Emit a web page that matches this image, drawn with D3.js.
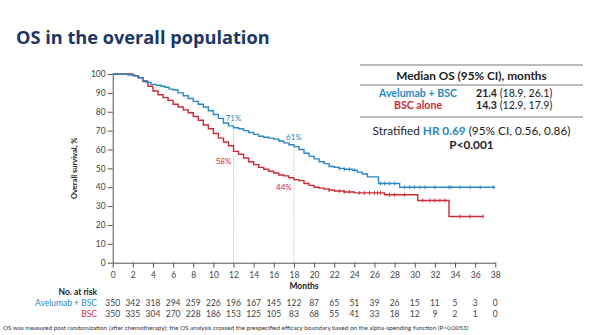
<!DOCTYPE html>
<html>
<head>
<meta charset="utf-8">
<script src="https://cdn.jsdelivr.net/npm/d3@7"></script>
<style>
  body { margin: 0; background: #fff; }
  svg text { font-family: Lato, "Open Sans", sans-serif; }
  .axis path, .axis line { stroke: #555; }
  .axis text { fill: #444; font-size: 8.5px; font-family: Lato, sans-serif; }
</style>
</head>
<body>
<div id="chart"></div>
<script>
// Kaplan-Meier steps: [month, survival %]
const aveTimes = [0, 0.5, 1.5, 2.2, 2.6, 3.0, 3.4, 3.8, 4.3, 4.8, 5.2, 5.6, 6.0, 6.5, 7.0, 7.5, 8.0, 8.5, 9.0, 9.5, 10.0, 10.5, 11.0, 11.5, 12.0, 12.5, 13.0, 13.5, 14.0, 14.5, 15.0, 15.5, 16.0, 16.5, 17.0, 17.5, 18.0, 18.5, 19.0, 19.5, 20.0, 20.5, 21.0, 21.5, 22.0, 22.5, 23.0, 23.8, 24.3, 24.8, 25.3, 26.4, 28.5, 38];
const aveSurv  = [100, 100, 99.5, 99, 98, 96.5, 95.5, 94.5, 94, 93.5, 93, 92, 91.5, 90, 88.5, 87, 85.5, 84, 82.5, 80.5, 78.5, 76.5, 74, 72.5, 71.5, 71, 70, 69, 68, 67, 66.5, 66, 65.5, 64.5, 63.5, 62.5, 61.5, 60, 58, 56.5, 55, 53.5, 52.5, 51, 50.5, 50, 49.5, 49, 48, 47, 45.5, 42, 40, 40];
const bscTimes = [0, 1.0, 2.0, 2.5, 3.0, 3.5, 4.0, 4.5, 5.0, 5.5, 6.0, 6.5, 7.0, 7.5, 8.0, 8.5, 9.0, 9.5, 10.0, 10.5, 11.0, 11.5, 12.0, 12.5, 13.0, 13.5, 14.0, 14.5, 15.0, 15.5, 16.0, 16.5, 17.0, 17.5, 18.0, 18.5, 19.0, 19.5, 20.0, 20.5, 21.0, 21.5, 22.0, 23.0, 24.0, 27.0, 30.3, 33.4, 36.8];
const bscSurv  = [100, 100, 99, 98, 96, 93.5, 91, 89, 87.5, 86, 84, 82.5, 81, 79.5, 77.5, 75.5, 73, 71, 68.5, 66, 64, 62, 59, 57.5, 55.5, 53.5, 52, 50.5, 49.5, 48.5, 47.5, 46.5, 46, 45, 44, 43.5, 42, 41, 40, 39.5, 39, 38.5, 38, 37.5, 37, 36, 33, 24.5, 24.5];
// censoring marks (months)
const aveCensor = [22.5, 23.0, 23.5, 24.0, 26.6, 27.0, 27.5, 28.0, 29.0, 29.5, 30.0, 30.5, 31.0, 32.0, 33.4, 33.6, 34.5, 35.5, 36.5, 37.8];
const bscCensor = [21.5, 22.5, 23.0, 23.5, 24.5, 25.0, 25.5, 26.0, 26.3, 26.6, 27.5, 28.0, 29.0, 30.8, 31.5, 32.0, 32.5, 33.0, 34.5, 35.5, 36.8];

const xTicks = d3.range(0, 40, 2);
const yTicks = d3.range(0, 110, 10);
const riskAve = [350, 342, 318, 294, 259, 226, 196, 167, 145, 122, 87, 65, 51, 39, 26, 15, 11, 5, 3, 0];
const riskBsc = [350, 335, 304, 270, 228, 186, 153, 125, 105, 83, 68, 55, 41, 33, 18, 12, 9, 2, 1, 0];
const landmarks = [
  {t: 12, ave: 71, bsc: 58},
  {t: 18, ave: 61, bsc: 44}
];

const blue = '#2a88c2', red = '#cc2a37', navy = '#1d3662';
const W = 600, H = 335;

const svg = d3.select('#chart').append('svg')
  .attr('width', W).attr('height', H);

const x = d3.scaleLinear().domain([0, 38]).range([112.7, 495.3]);
const y = d3.scaleLinear().domain([0, 100]).range([262.7, 74]);

// title
svg.append('text')
  .attr('x', 16).attr('y', 44)
  .style('font-family', '"Open Sans", sans-serif')
  .style('font-weight', 700).style('font-size', '18.2px')
  .attr('fill', navy)
  .text('OS in the overall population');

// axes
svg.append('g').attr('class', 'axis')
  .attr('transform', `translate(0,${y(0)})`)
  .call(d3.axisBottom(x).tickValues(xTicks).tickSize(5).tickSizeOuter(0).tickPadding(4));

svg.append('g').attr('class', 'axis')
  .attr('transform', `translate(${x(0)},0)`)
  .call(d3.axisLeft(y).tickValues(yTicks).tickSize(5).tickSizeOuter(0).tickPadding(2));

svg.append('text')
  .attr('transform', `translate(77,${(y(0) + y(100)) / 2}) rotate(-90)`)
  .style('text-anchor', 'middle').style('font-weight', 700).style('font-size', '7.5px')
  .attr('fill', '#222')
  .text('Overall survival, %');

svg.append('text')
  .attr('x', (x(0) + x(38)) / 2).attr('y', 289)
  .style('text-anchor', 'middle').style('font-weight', 700).style('font-size', '8.5px')
  .attr('fill', '#222')
  .text('Months');

// landmark guides
svg.append('g').selectAll('line')
  .data(landmarks).join('line')
  .attr('x1', d => x(d.t)).attr('x2', d => x(d.t))
  .attr('y1', d => y(d.ave)).attr('y2', y(0))
  .attr('stroke', '#999').attr('stroke-width', 0.8)
  .attr('stroke-dasharray', '1,1.5');

// curves
const line = d3.line()
  .x(d => x(d[0])).y(d => y(d[1]))
  .curve(d3.curveStepAfter);

function stepAt(times, surv, t) {
  let i = d3.bisectRight(times, t) - 1;
  return surv[Math.max(0, i)];
}

const arms = [
  {times: aveTimes, surv: aveSurv, censor: aveCensor, color: blue},
  {times: bscTimes, surv: bscSurv, censor: bscCensor, color: red}
];

// draw BSC first so the blue sits on top where they overlap
arms.slice().reverse().forEach(a => {
  svg.append('path')
    .datum(d3.zip(a.times, a.surv))
    .attr('fill', 'none')
    .attr('stroke', a.color)
    .attr('stroke-width', 1.4)
    .attr('d', line);

  svg.append('g').selectAll('line')
    .data(a.censor).join('line')
    .attr('x1', d => x(d)).attr('x2', d => x(d))
    .attr('y1', d => y(stepAt(a.times, a.surv, d)) - 2)
    .attr('y2', d => y(stepAt(a.times, a.surv, d)) + 2)
    .attr('stroke', a.color).attr('stroke-width', 0.9);
});

// landmark labels
const lab = svg.append('g').style('font-size', '8px').style('text-anchor', 'middle');
lab.selectAll('.la').data(landmarks).join('text')
  .attr('x', d => x(d.t)).attr('y', d => y(d.ave) - 8)
  .attr('fill', blue).text(d => d.ave + '%');
lab.selectAll('.lb').data(landmarks).join('text')
  .attr('x', d => x(d.t) - 10).attr('y', d => y(d.bsc) + 10.5)
  .attr('fill', red).text(d => d.bsc + '%');

// median OS box
const bx0 = 360, bx1 = 583, bc = (bx0 + bx1) / 2;
[65, 85, 117].forEach(yy => {
  svg.append('line')
    .attr('x1', bx0).attr('x2', bx1).attr('y1', yy).attr('y2', yy)
    .attr('stroke', '#666').attr('stroke-width', 0.9);
});
const box = svg.append('g').style('font-size', '11.8px');
box.append('text').attr('x', bc).attr('y', 79.5)
  .style('text-anchor', 'middle').style('font-weight', 700).attr('fill', '#222')
  .text('Median OS (95% CI), months');
const rows = box.append('g').style('font-size', '10.6px');
rows.append('text').attr('x', 418).attr('y', 96.5)
  .style('text-anchor', 'middle').style('font-weight', 700).attr('fill', blue)
  .text('Avelumab + BSC');
rows.append('text').attr('x', 418).attr('y', 109)
  .style('text-anchor', 'middle').style('font-weight', 700).attr('fill', red)
  .text('BSC alone');
const m1 = rows.append('text').attr('x', 476).attr('y', 96.5).attr('fill', '#222');
m1.append('tspan').style('font-weight', 700).text('21.4');
m1.append('tspan').text(' (18.9, 26.1)');
const m2 = rows.append('text').attr('x', 476).attr('y', 109).attr('fill', '#222');
m2.append('tspan').style('font-weight', 700).text('14.3');
m2.append('tspan').text(' (12.9, 17.9)');
const hr = box.append('text').attr('x', bc).attr('y', 135)
  .style('text-anchor', 'middle').attr('fill', '#222');
hr.append('tspan').text('Stratified ');
hr.append('tspan').style('font-weight', 700).attr('fill', blue).text('HR 0.69');
hr.append('tspan').text(' (95% CI, 0.56, 0.86)');
box.append('text').attr('x', bc).attr('y', 148.5)
  .style('text-anchor', 'middle').style('font-weight', 700).attr('fill', '#222')
  .text('P<0.001');

// number at risk
const risk = svg.append('g').style('font-size', '8.5px');
risk.append('text').attr('x', 97).attr('y', 295)
  .style('text-anchor', 'end').style('font-weight', 700).attr('fill', '#222')
  .text('No. at risk');
risk.append('text').attr('x', 97).attr('y', 306)
  .style('text-anchor', 'end').attr('fill', blue).text('Avelumab + BSC');
risk.append('text').attr('x', 97).attr('y', 317)
  .style('text-anchor', 'end').attr('fill', red).text('BSC');
risk.selectAll('.ra').data(riskAve).join('text')
  .attr('x', (d, i) => x(xTicks[i])).attr('y', 306)
  .style('text-anchor', 'middle').attr('fill', '#444').text(d => d);
risk.selectAll('.rb').data(riskBsc).join('text')
  .attr('x', (d, i) => x(xTicks[i])).attr('y', 317)
  .style('text-anchor', 'middle').attr('fill', '#444').text(d => d);

// footnote
svg.append('text').attr('x', 3).attr('y', 330)
  .style('font-size', '6.3px').attr('fill', '#333')
  .text('OS was measured post randomization (after chemotherapy); the OS analysis crossed the prespecified efficacy boundary based on the alpha-spending function (P<0.0053)');
</script>
</body>
</html>
